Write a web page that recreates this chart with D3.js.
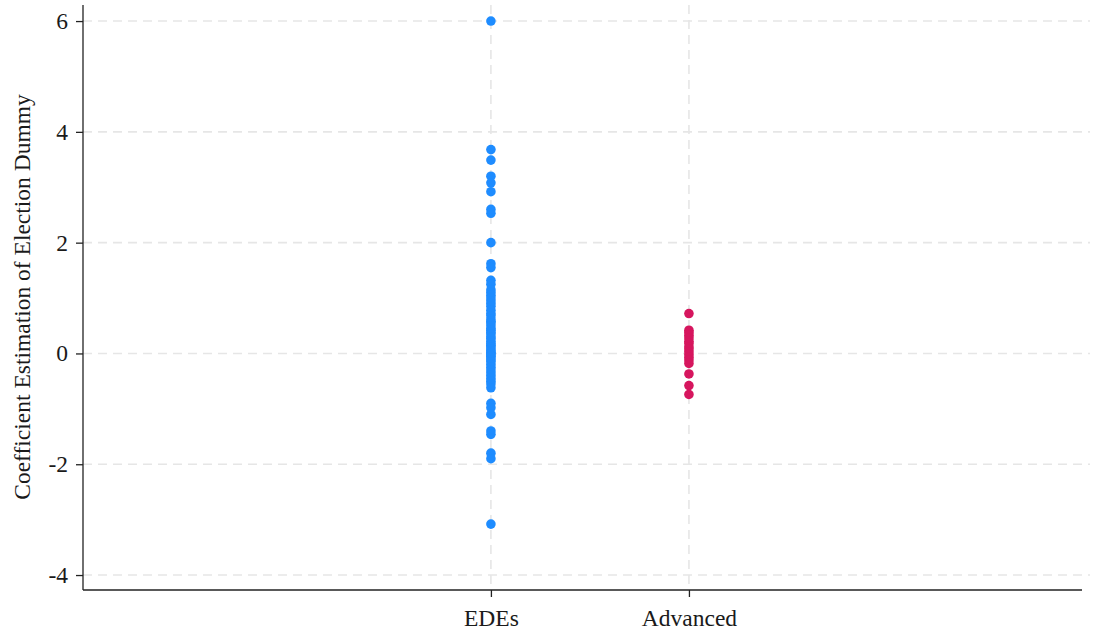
<!DOCTYPE html>
<html>
<head>
<meta charset="utf-8">
<script src="https://cdn.jsdelivr.net/npm/d3@7"></script>
<style>
  html, body { margin: 0; padding: 0; background: #ffffff; }
  svg { display: block; }
  text { font-family: "Liberation Serif", "Times New Roman", serif; fill: #1a1a1a; }
</style>
</head>
<body>
<svg id="chart" width="1096" height="632"></svg>
<script>
// Country-group categories and their positions on the horizontal axis
const categories = ["EDEs", "Advanced"];
const categoryPos = [1, 2];

// Estimated coefficients of the election dummy, one per country
const edesValues = [
  6.0, 3.68, 3.49, 3.2, 3.08, 2.92, 2.6, 2.53, 2.0, 1.62, 1.55, 1.32,
  1.25, 1.15, 1.1, 1.05, 1.0, 0.95, 0.9, 0.85, 0.78, 0.72, 0.68, 0.62,
  0.58, 0.55, 0.5, 0.45, 0.42, 0.38, 0.35, 0.3, 0.27, 0.22, 0.18, 0.15,
  0.12, 0.08, 0.05, 0.02, 0.0, -0.03, -0.05, -0.08, -0.12, -0.15, -0.2,
  -0.25, -0.3, -0.35, -0.4, -0.45, -0.5, -0.55, -0.62,
  -0.9, -0.98, -1.1, -1.4, -1.46, -1.8, -1.9, -3.08
];
const advancedValues = [
  0.72, 0.42, 0.38, 0.33, 0.28, 0.22, 0.18, 0.12, 0.08, 0.03, -0.02,
  -0.07, -0.12, -0.18, -0.37, -0.58, -0.74
];

const yTicks = [-4, -2, 0, 2, 4, 6];
const yTitle = "Coefficient Estimation of Election Dummy";
const colors = ["#1E8CFF", "#D6165E"];

const svg = d3.select("#chart");
const plotLeft = 83, plotRight = 1082, plotTop = 5, plotBottom = 590;
const fontSize = "23.5px";

const x = d3.scaleLinear().domain([-1.06, 3.985]).range([plotLeft, plotRight]);
const y = d3.scaleLinear().domain([-4.27, 6.29]).range([plotBottom, plotTop]);

// Horizontal dashed grid
svg.append("g").selectAll("line").data(yTicks).join("line")
  .attr("x1", plotLeft).attr("x2", 1090)
  .attr("y1", d => y(d)).attr("y2", d => y(d))
  .attr("stroke", "#e6e6e6").attr("stroke-width", 1.6)
  .attr("stroke-dasharray", "9,6");

// Vertical dashed grid at each category
svg.append("g").selectAll("line").data(categoryPos).join("line")
  .attr("x1", d => x(d)).attr("x2", d => x(d))
  .attr("y1", plotTop).attr("y2", plotBottom)
  .attr("stroke", "#e6e6e6").attr("stroke-width", 1.6)
  .attr("stroke-dasharray", "9,6");

// Y axis
const yAxis = svg.append("g")
  .attr("transform", `translate(${plotLeft},0)`)
  .call(d3.axisLeft(y).tickValues(yTicks).tickSize(7).tickSizeOuter(0).tickPadding(8)
    .tickFormat(d3.format("d")));
yAxis.select(".domain").attr("stroke", "#222").attr("stroke-width", 1.3)
  .attr("d", `M0,${plotTop}V${plotBottom}`);
yAxis.selectAll(".tick line").attr("stroke", "#222").attr("stroke-width", 1.3);
yAxis.selectAll(".tick text").style("font-size", fontSize)
  .style("font-family", "'Liberation Serif', serif").attr("fill", "#1a1a1a")
  .text(d => d < 0 ? "-" + Math.abs(d) : d);

// X axis
const xAxis = svg.append("g")
  .attr("transform", `translate(0,${plotBottom})`)
  .call(d3.axisBottom(x).tickValues(categoryPos).tickSize(7).tickSizeOuter(0).tickPadding(12)
    .tickFormat((d, i) => categories[i]));
xAxis.select(".domain").attr("stroke", "#222").attr("stroke-width", 1.3)
  .attr("d", `M${plotLeft},0H${plotRight}`);
xAxis.selectAll(".tick line").attr("stroke", "#222").attr("stroke-width", 1.3);
xAxis.selectAll(".tick text").style("font-size", fontSize)
  .style("font-family", "'Liberation Serif', serif").attr("fill", "#1a1a1a");

// Y axis title
svg.append("text")
  .attr("transform", `translate(30,297) rotate(-90)`)
  .attr("text-anchor", "middle")
  .style("font-size", fontSize)
  .text(yTitle);

// Points
const groups = [edesValues, advancedValues];
groups.forEach((vals, gi) => {
  svg.append("g").selectAll("circle").data(vals).join("circle")
    .attr("cx", x(categoryPos[gi]))
    .attr("cy", d => y(d))
    .attr("r", 4.8)
    .attr("fill", colors[gi]);
});
</script>
</body>
</html>
